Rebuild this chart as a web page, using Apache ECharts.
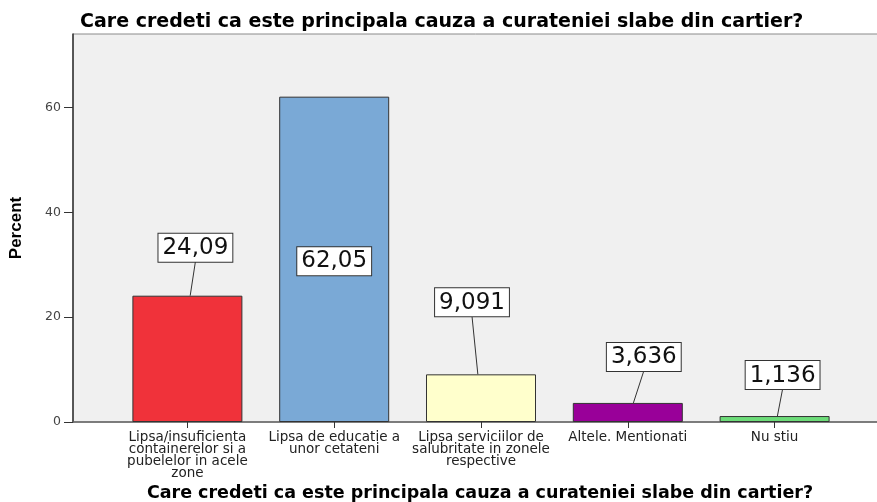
<!DOCTYPE html>
<html>
<head>
<meta charset="utf-8">
<script src="https://cdn.jsdelivr.net/npm/echarts@6/dist/echarts.min.js"></script>
<style>html,body{margin:0;padding:0;background:#fff}#c{width:877px;height:502px}</style>
</head>
<body>
<div id="c"></div>
<script>
const titleText = "Care credeti ca este principala cauza a curateniei slabe din cartier?";
const categories = [
  "Lipsa/insuficienta\ncontainerelor si a\npubelelor in acele\nzone",
  "Lipsa de educatie a\nunor cetateni",
  "Lipsa serviciilor de\nsalubritate in zonele\nrespective",
  "Altele. Mentionati",
  "Nu stiu"
];
const percents = [24.09, 62.05, 9.091, 3.636, 1.136];
const barColors = ["#f0323a", "#7aa9d6", "#ffffcc", "#990099", "#6ddc79"];
const yTicks = [0, 20, 40, 60];
// label box placement relative to bar top centre: [dx, gap above bar]
const labelOffsets = [[8, 34], [0, 0], [-9, 58], [16, 32], [8, 27]];

const chart = echarts.init(document.getElementById('c'));
const FONT = 'DejaVu Sans';
const fmt = v => String(v).replace('.', ',');

chart.setOption({
  animation: false,
  backgroundColor: '#ffffff',
  title: {
    text: titleText, left: 75, top: 8,
    textStyle: {fontFamily: FONT, fontWeight: 'bold', fontSize: 19, color: '#000'}
  },
  grid: [
    {left: 73, right: -10, top: 34, bottom: 80, outerBoundsMode: 'none', containLabel: false,
     show: true, backgroundColor: '#f0f0f0', borderColor: '#8a8a8a', borderWidth: 1},
    {left: 114, right: 29, top: 34, bottom: 80, outerBoundsMode: 'none', containLabel: false}
  ],
  xAxis: [
    {type: 'value', gridIndex: 0, min: 0, max: 1,
     axisLine: {show: true, lineStyle: {color: '#666', width: 1.5}},
     axisTick: {show: false}, axisLabel: {show: false}, splitLine: {show: false},
     name: titleText, nameLocation: 'middle', nameGap: 62,
     nameTextStyle: {fontFamily: FONT, fontWeight: 'bold', fontSize: 17.5, color: '#000'}},
    {type: 'category', gridIndex: 1, data: categories,
     axisLine: {show: false},
     axisTick: {show: true, alignWithLabel: true, length: 6, lineStyle: {color: '#333'}},
     axisLabel: {interval: 0, margin: 9, fontFamily: FONT, fontSize: 13.5, lineHeight: 12, color: '#222'}}
  ],
  yAxis: [
    {type: 'value', gridIndex: 0, min: 0, max: 74,
     axisLine: {show: true, lineStyle: {color: '#333', width: 1.5}},
     axisTick: {show: true, length: 9, customValues: yTicks, lineStyle: {color: '#333'}},
     axisLabel: {customValues: yTicks, margin: 12, fontFamily: FONT, fontSize: 12.5, color: '#444'},
     splitLine: {show: false},
     name: 'Percent', nameLocation: 'middle', nameRotate: 90, nameGap: 48,
     nameTextStyle: {fontFamily: 'Liberation Sans', fontWeight: 'bold', fontSize: 17, color: '#000'}},
    {type: 'value', gridIndex: 1, min: 0, max: 74, show: false}
  ],
  series: [{
    type: 'bar', xAxisIndex: 1, yAxisIndex: 1, barWidth: 110,
    data: percents.map((v, i) => ({value: v, itemStyle: {color: barColors[i]}})),
    itemStyle: {borderColor: '#333', borderWidth: 1}
  }, {
    type: 'custom', xAxisIndex: 1, yAxisIndex: 1, z: 5,
    data: percents.map((v, i) => [i, v]),
    renderItem: function (params, api) {
      const i = api.value(0), v = api.value(1);
      const top = api.coord([i, v]);
      const textStyle = {
        text: fmt(v), fontFamily: FONT, fontSize: 23, fill: '#111',
        align: 'center', backgroundColor: '#fff', borderColor: '#333', borderWidth: 1,
        padding: [2, 4, 1, 4], lineHeight: 25
      };
      if (v > 40) {
        const mid = api.coord([i, v / 2]);
        return {type: 'text', style: Object.assign({x: mid[0], y: mid[1] + 2, verticalAlign: 'middle'}, textStyle)};
      }
      const dx = labelOffsets[i][0], gap = labelOffsets[i][1];
      const lx = top[0] + dx, ly = top[1] - gap;
      return {
        type: 'group',
        children: [
          {type: 'line', shape: {x1: lx, y1: ly, x2: top[0] + dx * 0.35, y2: top[1]},
           style: {stroke: '#333', lineWidth: 1}},
          {type: 'text', style: Object.assign({x: lx, y: ly, verticalAlign: 'bottom'}, textStyle)}
        ]
      };
    }
  }]
});
</script>
</body>
</html>
